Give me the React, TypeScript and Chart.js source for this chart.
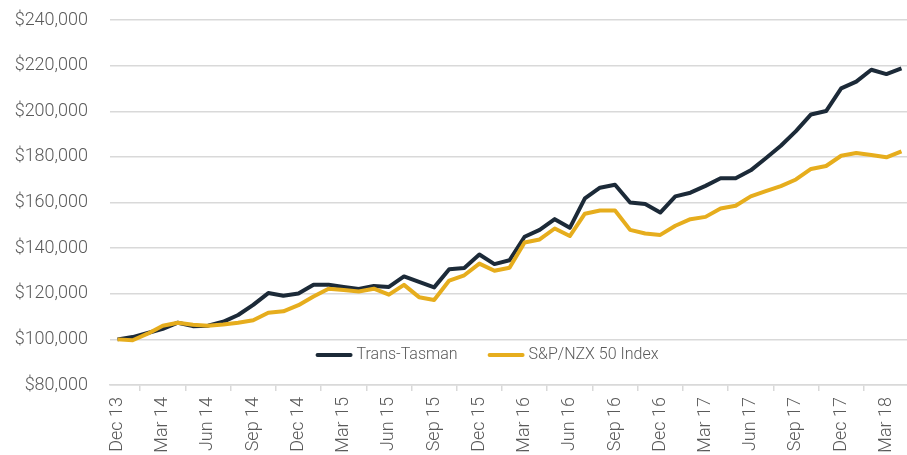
import React, { useEffect, useRef } from "react";
import { Chart, registerables } from "chart.js";

Chart.register(...registerables);

const months: string[] = [
  "Dec 13", "Jan 14", "Feb 14", "Mar 14", "Apr 14", "May 14", "Jun 14", "Jul 14", "Aug 14", "Sep 14", "Oct 14", "Nov 14",
  "Dec 14", "Jan 15", "Feb 15", "Mar 15", "Apr 15", "May 15", "Jun 15", "Jul 15", "Aug 15", "Sep 15", "Oct 15", "Nov 15",
  "Dec 15", "Jan 16", "Feb 16", "Mar 16", "Apr 16", "May 16", "Jun 16", "Jul 16", "Aug 16", "Sep 16", "Oct 16", "Nov 16",
  "Dec 16", "Jan 17", "Feb 17", "Mar 17", "Apr 17", "May 17", "Jun 17", "Jul 17", "Aug 17", "Sep 17", "Oct 17", "Nov 17",
  "Dec 17", "Jan 18", "Feb 18", "Mar 18", "Apr 18",
];

const transTasman: number[] = [
  100000, 101000, 102800, 104600, 107300, 105800, 106000, 107700, 110700, 115100, 120300, 119100,
  120100, 123900, 123900, 123000, 122100, 123400, 123000, 127600, 125200, 122800, 130700, 131300,
  137200, 133000, 134700, 145000, 148000, 152700, 148900, 161800, 166500, 167800, 160000, 159300,
  155600, 162700, 164300, 167300, 170600, 170600, 174100, 179400, 184900, 191300, 198600, 200100,
  210000, 213000, 218200, 216300, 218800,
];

const nzx50: number[] = [
  100000, 99600, 102500, 106000, 107300, 106400, 106000, 106500, 107300, 108400, 111700, 112300,
  115000, 118800, 122200, 121600, 121000, 122200, 119600, 123900, 118500, 117300, 125800, 128100,
  133200, 130100, 131400, 142500, 143800, 148600, 145300, 155100, 156500, 156500, 148000, 146400,
  145800, 149800, 152700, 153700, 157400, 158600, 162700, 165000, 167200, 170100, 174700, 176000,
  180500, 181700, 180800, 179800, 182400,
];

const seriesNames: string[] = ["Trans-Tasman", "S&P/NZX 50 Index"];
const seriesColors: string[] = ["#1c2a38", "#e6ad1d"];

const FONT = "Roboto, 'Liberation Sans', Arial, sans-serif";
const TEXT_COLOR = "#5a5a5a";
const GRID_COLOR = "#d9d9d9";

const legendPlugin = {
  id: "insideLegend",
  afterDraw(chart: any) {
    const ctx = chart.ctx;
    ctx.save();
    ctx.font = `300 16px ${FONT}`;
    ctx.textBaseline = "middle";
    ctx.textAlign = "left";
    const lineLen = 37;
    const gapText = 4;
    const gapItem = 30;
    const ds = chart.data.datasets;
    let total = 0;
    ds.forEach((d: any, i: number) => {
      total += lineLen + gapText + ctx.measureText(d.label).width;
      if (i < ds.length - 1) total += gapItem;
    });
    let x = 487 - total / 2;
    const y = 355;
    ds.forEach((d: any) => {
      ctx.strokeStyle = d.borderColor;
      ctx.lineWidth = 4;
      ctx.lineCap = "round";
      ctx.beginPath();
      ctx.moveTo(x + 2, y);
      ctx.lineTo(x + lineLen - 2, y);
      ctx.stroke();
      x += lineLen + gapText;
      ctx.fillStyle = TEXT_COLOR;
      ctx.fillText(d.label, x, y);
      x += ctx.measureText(d.label).width + gapItem;
    });
    ctx.restore();
  },
};

export default function App() {
  const ref = useRef<HTMLCanvasElement | null>(null);

  useEffect(() => {
    if (!ref.current) return;
    const chart = new Chart(ref.current, {
      type: "line",
      data: {
        labels: months,
        datasets: [
          {
            label: seriesNames[0],
            data: transTasman,
            borderColor: seriesColors[0],
            backgroundColor: seriesColors[0],
            borderWidth: 4,
            pointRadius: 0,
            tension: 0,
            borderJoinStyle: "round",
            order: 1,
          },
          {
            label: seriesNames[1],
            data: nzx50,
            borderColor: seriesColors[1],
            backgroundColor: seriesColors[1],
            borderWidth: 4,
            pointRadius: 0,
            tension: 0,
            borderJoinStyle: "round",
            order: 0,
          },
        ],
      },
      options: {
        responsive: false,
        animation: false,
        layout: { padding: { top: 20, left: 0, right: 0, bottom: 0 } },
        plugins: {
          legend: { display: false },
          tooltip: { enabled: false },
          title: { display: false },
        },
        scales: {
          x: {
            offset: true,
            grid: {
              offset: true,
              drawOnChartArea: false,
              drawTicks: true,
              tickLength: 6,
              tickColor: GRID_COLOR,
              lineWidth: 1.5,
            },
            border: { display: true, color: GRID_COLOR, width: 1.5 },
            ticks: {
              autoSkip: false,
              minRotation: 90,
              maxRotation: 90,
              padding: 6,
              color: TEXT_COLOR,
              font: { family: FONT, size: 18, weight: "300" },
              callback: function (this: any, _v: any, i: number) {
                return i % 3 === 0 ? months[i] : null;
              },
            },
            afterFit(scale: any) {
              scale.height = 70;
            },
          },
          y: {
            min: 80000,
            max: 240000,
            grid: {
              color: GRID_COLOR,
              lineWidth: 1.5,
              drawTicks: true,
              tickLength: 22,
              tickColor: "rgba(0,0,0,0)",
            },
            border: { display: false },
            ticks: {
              stepSize: 20000,
              padding: 0,
              color: TEXT_COLOR,
              font: { family: FONT, size: 18, weight: "300" },
              callback: (v: any) => "$" + Number(v).toLocaleString("en-US"),
            },
            afterFit(scale: any) {
              scale.width = 110;
            },
          },
        },
      },
      plugins: [legendPlugin],
    });
    return () => chart.destroy();
  }, []);

  return (
    <div
      style={{
        position: "fixed",
        left: 0,
        top: 0,
        width: 907,
        height: 455,
        overflow: "hidden",
        background: "#ffffff",
      }}
    >
      <canvas ref={ref} width={914} height={455} style={{ display: "block" }} />
    </div>
  );
}
